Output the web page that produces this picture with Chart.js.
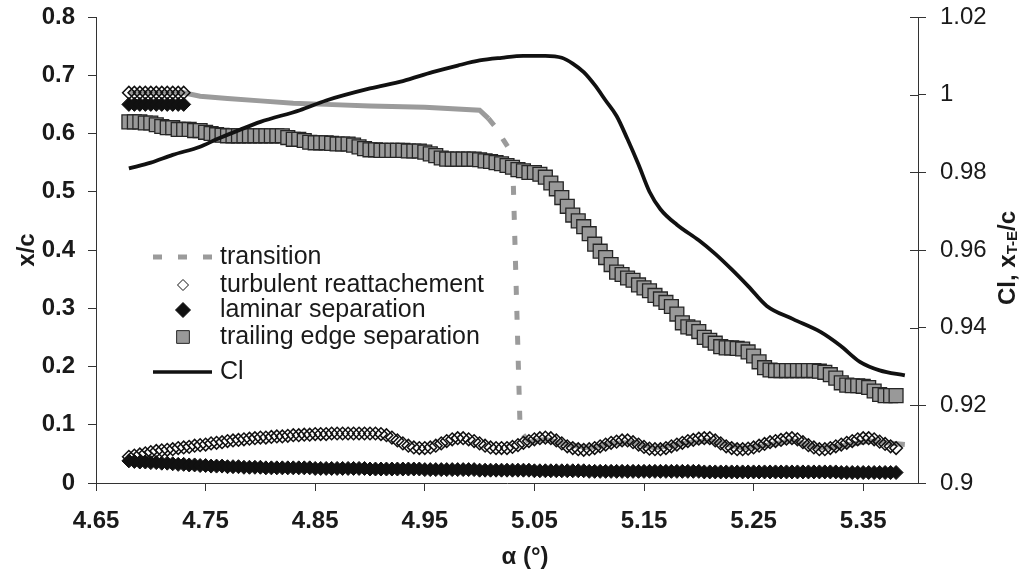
<!DOCTYPE html>
<html>
<head>
<meta charset="utf-8">
<script src="https://cdn.jsdelivr.net/npm/chart.js@4.4.0/dist/chart.umd.min.js"></script>
<style>
  html, body { margin: 0; padding: 0; background: #fff; }
</style>
</head>
<body>
<canvas id="chart" width="1023" height="577"></canvas>
<script>
// angle of attack grid for the marker series
const alpha = [
  4.68, 4.685, 4.69, 4.695, 4.7, 4.705, 4.71, 4.715, 4.72, 4.725,
  4.73, 4.735, 4.74, 4.745, 4.75, 4.755, 4.76, 4.765, 4.77, 4.775,
  4.78, 4.785, 4.79, 4.795, 4.8, 4.805, 4.81, 4.815, 4.82, 4.825,
  4.83, 4.835, 4.84, 4.845, 4.85, 4.855, 4.86, 4.865, 4.87, 4.875,
  4.88, 4.885, 4.89, 4.895, 4.9, 4.905, 4.91, 4.915, 4.92, 4.925,
  4.93, 4.935, 4.94, 4.945, 4.95, 4.955, 4.96, 4.965, 4.97, 4.975,
  4.98, 4.985, 4.99, 4.995, 5.0, 5.005, 5.01, 5.015, 5.02, 5.025,
  5.03, 5.035, 5.04, 5.045, 5.05, 5.055, 5.06, 5.065, 5.07, 5.075,
  5.08, 5.085, 5.09, 5.095, 5.1, 5.105, 5.11, 5.115, 5.12, 5.125,
  5.13, 5.135, 5.14, 5.145, 5.15, 5.155, 5.16, 5.165, 5.17, 5.175,
  5.18, 5.185, 5.19, 5.195, 5.2, 5.205, 5.21, 5.215, 5.22, 5.225,
  5.23, 5.235, 5.24, 5.245, 5.25, 5.255, 5.26, 5.265, 5.27, 5.275,
  5.28, 5.285, 5.29, 5.295, 5.3, 5.305, 5.31, 5.315, 5.32, 5.325,
  5.33, 5.335, 5.34, 5.345, 5.35, 5.355, 5.36, 5.365, 5.37, 5.375,
  5.38
];

const teSep = [
  0.62, 0.62, 0.62, 0.618, 0.618, 0.615, 0.612, 0.61, 0.61, 0.607,
  0.607, 0.607, 0.605, 0.605, 0.602, 0.6, 0.598, 0.597, 0.596, 0.596,
  0.596, 0.596, 0.596, 0.596, 0.596, 0.596, 0.596, 0.596, 0.596, 0.593,
  0.59, 0.59, 0.588, 0.585, 0.584, 0.584, 0.584, 0.583, 0.582, 0.582,
  0.582, 0.58, 0.577, 0.574, 0.572, 0.572, 0.571, 0.571, 0.571, 0.571,
  0.571, 0.57, 0.57, 0.57, 0.568, 0.565, 0.562, 0.558, 0.556, 0.556,
  0.556, 0.556, 0.556, 0.556, 0.555, 0.553, 0.552, 0.55, 0.548, 0.545,
  0.542, 0.538, 0.536, 0.533, 0.533, 0.53, 0.525, 0.515, 0.505, 0.49,
  0.475, 0.46, 0.45, 0.44, 0.428, 0.41, 0.398, 0.387, 0.375, 0.362,
  0.358, 0.352, 0.348, 0.34, 0.335, 0.33, 0.322, 0.316, 0.31, 0.303,
  0.29, 0.275, 0.268, 0.266, 0.26, 0.25, 0.245, 0.24, 0.234, 0.232,
  0.232, 0.231, 0.23, 0.225, 0.218, 0.208, 0.198, 0.194, 0.193, 0.193,
  0.193, 0.193, 0.193, 0.193, 0.193, 0.193, 0.192, 0.19, 0.186, 0.18,
  0.172, 0.168, 0.167, 0.167, 0.166, 0.164, 0.158, 0.152, 0.15, 0.15,
  0.15
];

const turbLow = [
  0.045, 0.047, 0.049, 0.051, 0.053, 0.055, 0.056, 0.057, 0.058, 0.06,
  0.061, 0.062, 0.064, 0.065, 0.066, 0.068, 0.069, 0.07, 0.072, 0.073,
  0.074, 0.075, 0.076, 0.077, 0.078, 0.078, 0.079, 0.08, 0.08, 0.081,
  0.082, 0.082, 0.083, 0.083, 0.084, 0.084, 0.084, 0.085, 0.085, 0.085,
  0.085, 0.085, 0.085, 0.085, 0.085, 0.085, 0.084, 0.082, 0.078, 0.073,
  0.068, 0.064, 0.061, 0.06, 0.06, 0.061, 0.064, 0.068, 0.072, 0.075,
  0.077, 0.077, 0.075, 0.072, 0.068, 0.064, 0.061, 0.06, 0.06, 0.06,
  0.062, 0.065, 0.069, 0.072, 0.075, 0.077, 0.078, 0.077, 0.073, 0.068,
  0.063, 0.06, 0.058, 0.057, 0.058, 0.06, 0.063, 0.066, 0.069, 0.071,
  0.073, 0.073, 0.07, 0.066, 0.062, 0.059, 0.058, 0.058, 0.06, 0.063,
  0.066, 0.069, 0.072, 0.074, 0.076, 0.077, 0.077, 0.073, 0.068, 0.063,
  0.06, 0.058, 0.058, 0.059, 0.061, 0.064, 0.067, 0.07, 0.072, 0.074,
  0.076, 0.077, 0.075, 0.07, 0.065, 0.061, 0.058, 0.058, 0.06, 0.063,
  0.066, 0.069, 0.072, 0.075, 0.077, 0.077, 0.075, 0.071, 0.067, 0.063,
  0.06
];

const lamLow = [
  0.038, 0.037, 0.036, 0.036, 0.035, 0.035, 0.034, 0.034, 0.033, 0.032,
  0.032, 0.031, 0.031, 0.03, 0.03, 0.029, 0.029, 0.029, 0.028, 0.028,
  0.028, 0.027, 0.027, 0.027, 0.027, 0.026, 0.026, 0.026, 0.026, 0.026,
  0.026, 0.026, 0.026, 0.026, 0.025, 0.025, 0.025, 0.025, 0.025, 0.025,
  0.025, 0.025, 0.025, 0.025, 0.024, 0.024, 0.024, 0.024, 0.024, 0.024,
  0.024, 0.024, 0.024, 0.024, 0.023, 0.023, 0.023, 0.023, 0.023, 0.023,
  0.023, 0.023, 0.023, 0.023, 0.022, 0.022, 0.022, 0.022, 0.022, 0.022,
  0.022, 0.022, 0.022, 0.022, 0.021, 0.021, 0.021, 0.021, 0.021, 0.021,
  0.021, 0.021, 0.021, 0.021, 0.02, 0.02, 0.02, 0.02, 0.02, 0.02,
  0.02, 0.02, 0.02, 0.02, 0.02, 0.02, 0.02, 0.02, 0.02, 0.02,
  0.02, 0.02, 0.02, 0.02, 0.02, 0.019, 0.019, 0.019, 0.019, 0.019,
  0.019, 0.019, 0.019, 0.019, 0.019, 0.019, 0.019, 0.019, 0.019, 0.019,
  0.019, 0.019, 0.019, 0.019, 0.019, 0.019, 0.019, 0.019, 0.019, 0.019,
  0.018, 0.018, 0.018, 0.018, 0.018, 0.018, 0.018, 0.018, 0.018, 0.018,
  0.018
];

// second branch at the start of the run (upper points)
const alphaUp = [4.68, 4.685, 4.69, 4.695, 4.7, 4.705, 4.71, 4.715, 4.72, 4.725, 4.73];
const turbUp = [0.67, 0.67, 0.67, 0.67, 0.67, 0.67, 0.67, 0.67, 0.67, 0.67, 0.67];
const lamUp = [0.65, 0.65, 0.65, 0.65, 0.65, 0.65, 0.65, 0.65, 0.65, 0.65, 0.65];

const transAlpha = [4.68, 4.73, 4.745, 4.77, 4.8, 4.83, 4.86, 4.9, 4.95, 5.0,
  5.008, 5.015, 5.022, 5.03, 5.037, 5.045, 5.06, 5.08, 5.1, 5.12,
  5.14, 5.16, 5.185, 5.21, 5.24, 5.26, 5.285, 5.31, 5.33, 5.355, 5.388];
const transVal = [0.67, 0.67, 0.664, 0.66, 0.656, 0.652, 0.65, 0.647, 0.645, 0.64,
  0.626, 0.61, 0.588, 0.565, 0.09, 0.07, 0.075, 0.066, 0.06, 0.068,
  0.07, 0.06, 0.068, 0.073, 0.06, 0.064, 0.073, 0.06, 0.063, 0.072, 0.066];

const clAlpha = [4.68, 4.7, 4.72, 4.745, 4.76, 4.78, 4.8, 4.836, 4.86, 4.9,
  4.93, 4.957, 4.98, 5.0, 5.02, 5.04, 5.06, 5.075, 5.085, 5.095,
  5.105, 5.115, 5.125, 5.135, 5.145, 5.155, 5.165, 5.18, 5.2, 5.215,
  5.23, 5.245, 5.262, 5.286, 5.311, 5.329, 5.347, 5.365, 5.388];
const clVal = [0.981, 0.9825, 0.9845, 0.9866, 0.9885, 0.9908, 0.993, 0.996, 0.9985, 1.0016,
  1.0035, 1.0058, 1.0075, 1.0088, 1.0095, 1.01, 1.01, 1.0095, 1.008, 1.0058,
  1.0025, 0.9985, 0.9945, 0.9885, 0.982, 0.975, 0.9705, 0.9665, 0.9625, 0.959,
  0.955, 0.9507, 0.9456, 0.9422, 0.9389, 0.9354, 0.9312, 0.929, 0.9277];

const xTicks = [4.65, 4.75, 4.85, 4.95, 5.05, 5.15, 5.25, 5.35];
const yTicks = [0, 0.1, 0.2, 0.3, 0.4, 0.5, 0.6, 0.7, 0.8];
const y2Ticks = [0.9, 0.92, 0.94, 0.96, 0.98, 1, 1.02];

const labels = ['transition', 'turbulent reattachement', 'laminar separation',
  'trailing edge separation', 'Cl'];

const FONT = "'Liberation Sans', Arial, sans-serif";
const INK = '#1a1a1a';

function pairs(xs, ys) {
  return xs.map((x, i) => ({ x: x, y: ys[i] }));
}

const transDash = [9, 16];

const datasets = [{
  label: labels[0],
  data: pairs(transAlpha, transVal),
  showLine: true,
  borderColor: '#9b9b9b',
  borderWidth: 5,
  pointRadius: 0,
  order: 5,
  segment: {
    borderDash: ctx => {
      const dx = Math.abs(ctx.p1.x - ctx.p0.x);
      const dy = Math.abs(ctx.p1.y - ctx.p0.y);
      return dy > dx ? transDash : undefined;
    }
  }
}, {
  label: labels[1],
  data: pairs(alphaUp, turbUp).concat(pairs(alpha, turbLow)),
  showLine: false,
  pointStyle: 'rectRot',
  pointRadius: 6.3,
  pointBorderWidth: 1.5,
  pointBorderColor: '#111',
  pointBackgroundColor: 'rgba(0,0,0,0)',
  order: 4
}, {
  label: labels[2],
  data: pairs(alphaUp, lamUp).concat(pairs(alpha, lamLow)),
  showLine: false,
  pointStyle: 'rectRot',
  pointRadius: 7,
  pointBorderWidth: 1,
  pointBorderColor: '#111',
  pointBackgroundColor: '#111',
  order: 3
}, {
  label: labels[3],
  data: pairs(alpha, teSep),
  showLine: false,
  pointStyle: 'rect',
  pointRadius: 9.8,
  pointBorderWidth: 1.3,
  pointBorderColor: '#262626',
  pointBackgroundColor: '#999999',
  order: 2
}, {
  label: labels[4],
  data: pairs(clAlpha, clVal),
  yAxisID: 'y2',
  showLine: true,
  borderColor: '#111',
  borderWidth: 3.8,
  pointRadius: 0,
  cubicInterpolationMode: 'monotone',
  order: 1
}];

// legend inside the plot, axis titles that need their own place, inner tick halves
const legendRows = [257, 285, 310, 337, 372];
const legendSymbolX = 183;
const legendTextX = 220;

const overlay = {
  id: 'overlay',
  afterDraw(chart) {
    const ctx = chart.ctx;
    const ds = chart.data.datasets;
    ctx.save();

    // right axis: the tick marks cross the axis line
    const y2 = chart.scales.y2;
    ctx.strokeStyle = '#333';
    ctx.lineWidth = 1;
    y2Ticks.forEach(v => {
      const py = Math.round(y2.getPixelForValue(v)) + 0.5;
      ctx.beginPath();
      ctx.moveTo(y2.left - 8, py);
      ctx.lineTo(y2.left, py);
      ctx.stroke();
    });

    // legend
    ctx.font = '25px ' + FONT;
    ctx.fillStyle = INK;
    ctx.textBaseline = 'middle';
    ctx.textAlign = 'left';
    ds.forEach((d, i) => {
      const y = legendRows[i];
      if (d.showLine) {
        ctx.save();
        ctx.strokeStyle = d.borderColor;
        ctx.lineWidth = i === 0 ? 5 : 3.5;
        ctx.setLineDash(i === 0 ? transDash : []);
        ctx.beginPath();
        ctx.moveTo(153, y);
        ctx.lineTo(212, y);
        ctx.stroke();
        ctx.restore();
      } else {
        ctx.save();
        ctx.fillStyle = d.pointBackgroundColor;
        ctx.strokeStyle = d.pointBorderColor;
        ctx.lineWidth = 1;
        const r = d.pointStyle === 'rect' ? 9 : (i === 1 ? 5.5 : 7.5);
        Chart.helpers.drawPoint(ctx, {
          pointStyle: d.pointStyle, radius: r, rotation: 0, borderWidth: 1
        }, legendSymbolX, y);
        ctx.restore();
      }
      ctx.fillText(d.label, legendTextX, y);
    });

    // x axis title
    ctx.font = 'bold 24px ' + FONT;
    ctx.textAlign = 'center';
    ctx.fillText('\u03b1 (\u00b0)', 525, 557);

    // right axis title with subscript
    const parts = [
      { t: 'Cl, x', f: 'bold 24px ' + FONT, dy: 0 },
      { t: 'T-E', f: 'bold 15px ' + FONT, dy: 5 },
      { t: '/c', f: 'bold 24px ' + FONT, dy: 0 }
    ];
    let total = 0;
    parts.forEach(p => { ctx.font = p.f; p.w = ctx.measureText(p.t).width; total += p.w; });
    ctx.translate(1008, 258);
    ctx.rotate(-Math.PI / 2);
    ctx.textAlign = 'left';
    let cx = -total / 2;
    parts.forEach(p => {
      ctx.font = p.f;
      ctx.fillText(p.t, cx, p.dy);
      cx += p.w;
    });
    ctx.restore();
  }
};

// keep the plot box fixed: no extra room for half tick labels
function fixBox(size, horizontal) {
  return axis => {
    if (horizontal) { axis.height = size; } else { axis.width = size; }
    axis.paddingTop = 0;
    axis.paddingBottom = 0;
    axis.paddingLeft = 0;
    axis.paddingRight = 0;
  };
}

new Chart(document.getElementById('chart'), {
  type: 'scatter',
  data: { datasets: datasets },
  plugins: [overlay],
  options: {
    responsive: false,
    animation: false,
    events: [],
    layout: { padding: { top: 17, left: 0, right: 0, bottom: 0 } },
    plugins: {
      legend: { display: false },
      tooltip: { enabled: false }
    },
    scales: {
      x: {
        type: 'linear',
        position: 'bottom',
        min: 4.65,
        max: 5.40,
        afterBuildTicks: axis => { axis.ticks = xTicks.map(v => ({ value: v })); },
        afterFit: fixBox(94, true),
        ticks: {
          padding: 16,
          color: INK,
          font: { family: FONT, size: 24, weight: 'bold' },
          maxRotation: 0,
          callback: v => v.toFixed(2)
        },
        grid: { drawOnChartArea: false, tickLength: 8, tickColor: '#333' },
        border: { color: '#333', width: 1 }
      },
      y: {
        type: 'linear',
        position: 'left',
        min: 0,
        max: 0.8,
        afterBuildTicks: axis => { axis.ticks = yTicks.map(v => ({ value: v })); },
        afterFit: fixBox(96, false),
        ticks: {
          padding: 13,
          color: INK,
          font: { family: FONT, size: 24, weight: 'bold' },
          callback: v => String(v)
        },
        grid: { drawOnChartArea: false, tickLength: 8, tickColor: '#333' },
        border: { color: '#333', width: 1 },
        title: {
          display: true,
          text: 'x/c',
          color: INK,
          font: { family: FONT, size: 24, weight: 'bold' },
          padding: { top: 13, bottom: 0 }
        }
      },
      y2: {
        type: 'linear',
        position: 'right',
        min: 0.9,
        max: 1.02,
        afterBuildTicks: axis => { axis.ticks = y2Ticks.map(v => ({ value: v })); },
        afterFit: fixBox(105, false),
        ticks: {
          padding: 14,
          color: INK,
          font: { family: FONT, size: 24 },
          callback: v => String(v)
        },
        grid: { drawOnChartArea: false, tickLength: 8, tickColor: '#333' },
        border: { color: '#333', width: 1 }
      }
    }
  }
});
</script>
</body>
</html>
